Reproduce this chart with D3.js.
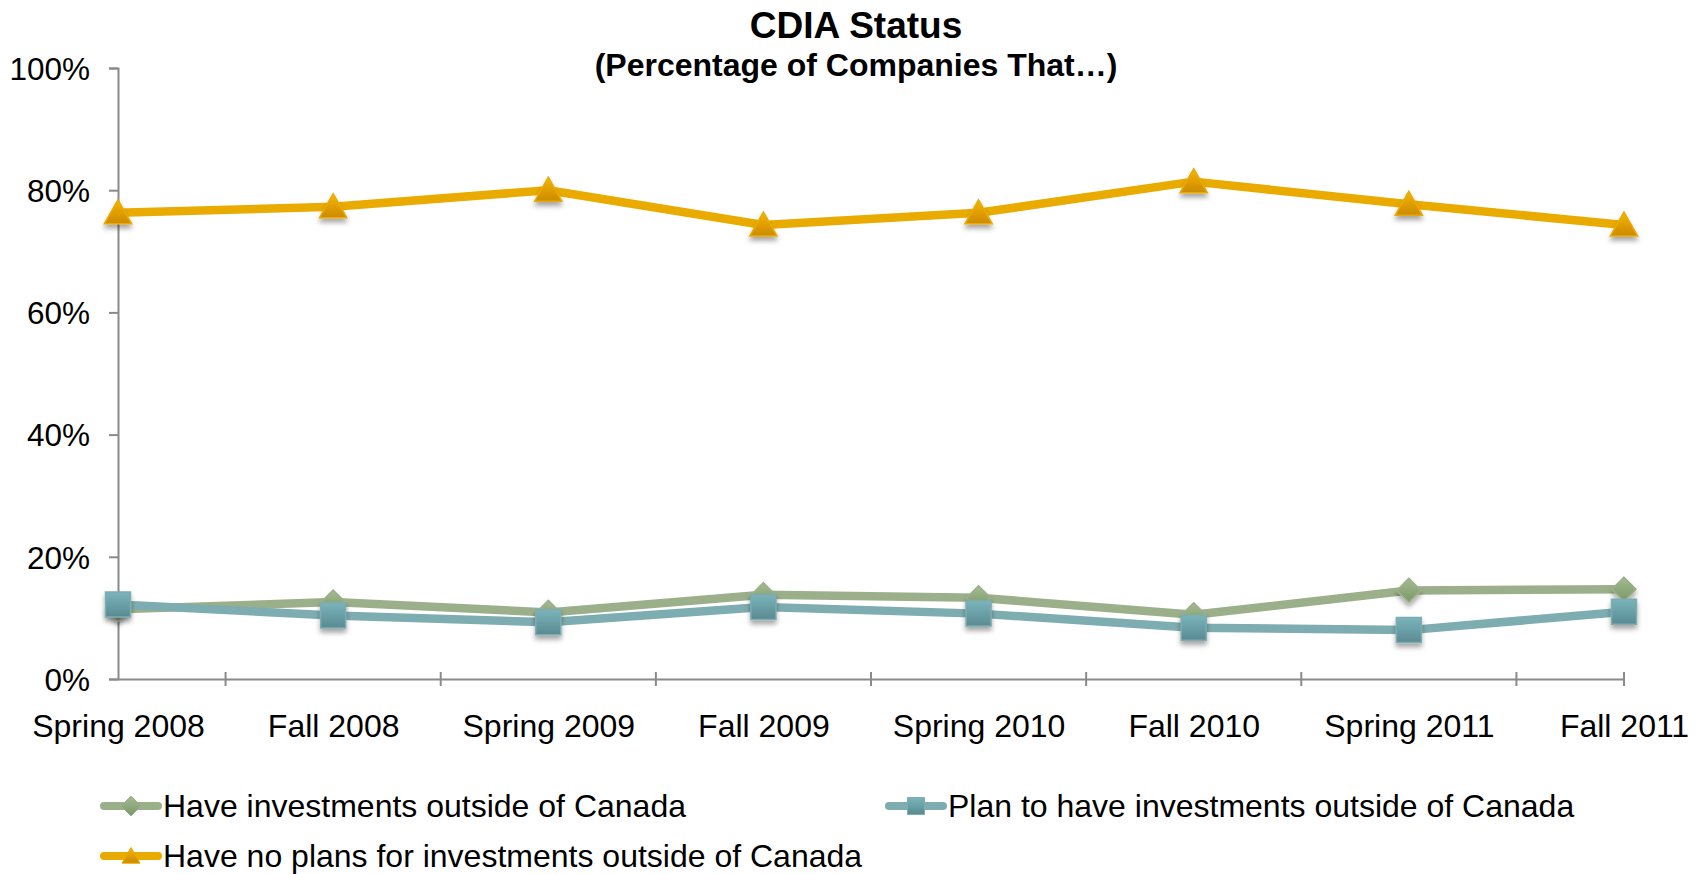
<!DOCTYPE html>
<html>
<head>
<meta charset="utf-8">
<script src="https://cdn.jsdelivr.net/npm/d3@7"></script>
<style>
  body { margin: 0; background: #fff; }
  text { font-family: "Liberation Sans", Arial, sans-serif; fill: #000; }
</style>
</head>
<body>
<div id="chart"></div>
<script>
// survey waves
var waves = ["Spring 2008", "Fall 2008", "Spring 2009", "Fall 2009",
             "Spring 2010", "Fall 2010", "Spring 2011", "Fall 2011"];

// share of companies
var haveInvest  = [0.114, 0.126, 0.109, 0.138, 0.133, 0.105, 0.145, 0.147];
var planInvest  = [0.122, 0.104, 0.093, 0.118, 0.107, 0.084, 0.080, 0.110];
var noPlans     = [0.763, 0.773, 0.800, 0.743, 0.763, 0.814, 0.777, 0.743];

var seriesNames = ["Have investments outside of Canada",
                   "Plan to have investments outside of Canada",
                   "Have no plans for investments outside of Canada"];

var yTicks = [0, 0.2, 0.4, 0.6, 0.8, 1.0];

var width = 1702, height = 874;

var svg = d3.select("#chart").append("svg")
    .attr("width", width)
    .attr("height", height);

var x = d3.scalePoint().domain(waves).range([118, 1624]);
var y = d3.scaleLinear().domain([0, 1]).range([679, 68]);

var series = [
    { name: seriesNames[0], values: haveInvest, line: "#9bb08a", top: "#a3bb91", bot: "#7a9869", shape: "diamond" },
    { name: seriesNames[1], values: planInvest, line: "#7dacb1", top: "#7ab4bb", bot: "#5a8a91", shape: "square" },
    { name: seriesNames[2], values: noPlans,    line: "#eaab00", top: "#f5b600", bot: "#cc8a00", shape: "triangle" }
];

var defs = svg.append("defs");
series.forEach(function(s, i) {
    var g = defs.append("linearGradient")
        .attr("id", "grad" + i)
        .attr("x1", 0).attr("y1", 0).attr("x2", 0).attr("y2", 1);
    g.append("stop").attr("offset", "0%").attr("stop-color", s.top);
    g.append("stop").attr("offset", "100%").attr("stop-color", s.bot);
});
var shadow = defs.append("filter").attr("id", "shadow")
    .attr("x", "-50%").attr("y", "-50%").attr("width", "200%").attr("height", "200%");
shadow.append("feDropShadow")
    .attr("dx", 0).attr("dy", 4).attr("stdDeviation", 2.5)
    .attr("flood-color", "#000").attr("flood-opacity", 0.35);

// title
svg.append("text")
    .attr("x", 856).attr("y", 38)
    .attr("text-anchor", "middle")
    .style("font-size", "37px").style("font-weight", "bold")
    .text("CDIA Status");
svg.append("text")
    .attr("x", 856).attr("y", 76)
    .attr("text-anchor", "middle")
    .style("font-size", "32px").style("font-weight", "bold")
    .text("(Percentage of Companies That\u2026)");

// y axis
var yAxis = svg.append("g")
    .attr("transform", "translate(118,0)")
    .call(d3.axisLeft(y).tickValues(yTicks).tickFormat(d3.format(".0%"))
        .tickSize(9).tickPadding(19));
yAxis.selectAll("text").style("font-size", "31.5px").attr("dy", "0.36em");

// x axis: labels under each wave, tick marks between waves
var xAxis = svg.append("g")
    .attr("transform", "translate(0,679)")
    .call(d3.axisBottom(x).tickSize(0).tickPadding(35));
xAxis.selectAll("text").style("font-size", "32px");

var step = x.step();
var midTicks = waves.slice(1).map(function(w) { return x(w) - step / 2; });
midTicks.push(x(waves[waves.length - 1]));
svg.append("g").selectAll("line")
    .data(midTicks)
    .enter().append("line")
    .attr("x1", function(d) { return d; })
    .attr("x2", function(d) { return d; })
    .attr("y1", 672).attr("y2", 686)
    .attr("stroke", "#8a8a8a").attr("stroke-width", 2);

svg.selectAll(".domain").attr("stroke", "#8a8a8a").attr("stroke-width", 2);
yAxis.selectAll(".tick line").attr("stroke", "#8a8a8a").attr("stroke-width", 2);

function markerPath(shape, size) {
    var h = size / 2;
    if (shape === "diamond") return "M0," + (-h) + "L" + h + ",0L0," + h + "L" + (-h) + ",0Z";
    if (shape === "square") return "M" + (-h) + "," + (-h) + "h" + size + "v" + size + "h" + (-size) + "Z";
    return "M0," + (-h * 1.0) + "L" + (h * 1.05) + "," + (h * 0.85) + "L" + (-h * 1.05) + "," + (h * 0.85) + "Z";
}
var markerSize = { diamond: 24, square: 25, triangle: 26 };

var line = d3.line()
    .x(function(d, i) { return x(waves[i]); })
    .y(function(d) { return y(d); });

series.forEach(function(s, i) {
    svg.append("path")
        .datum(s.values)
        .attr("fill", "none")
        .attr("stroke", s.line)
        .attr("stroke-width", 8.5)
        .attr("stroke-linejoin", "round")
        .attr("d", line);
});

series.forEach(function(s, i) {
    svg.append("g").selectAll("path")
        .data(s.values)
        .enter().append("path")
        .attr("transform", function(d, j) { return "translate(" + x(waves[j]) + "," + y(d) + ")"; })
        .attr("d", markerPath(s.shape, markerSize[s.shape]))
        .attr("fill", "url(#grad" + i + ")")
        .attr("stroke", s.line)
        .attr("stroke-width", 1.5)
        .attr("filter", "url(#shadow)");
});

// legend
var legendPos = [
    { x: 101, y: 806 },
    { x: 886, y: 806 },
    { x: 101, y: 856 }
];
series.forEach(function(s, i) {
    var g = svg.append("g").attr("transform", "translate(" + legendPos[i].x + "," + legendPos[i].y + ")");
    g.append("line")
        .attr("x1", 3).attr("x2", 57)
        .attr("stroke", s.line).attr("stroke-width", 8)
        .attr("stroke-linecap", "round");
    g.append("path")
        .attr("transform", "translate(30,0)")
        .attr("d", markerPath(s.shape, s.shape === "diamond" ? 20 : 17))
        .attr("fill", "url(#grad" + i + ")")
        .attr("stroke", s.line).attr("stroke-width", 1);
    g.append("text")
        .attr("x", 62).attr("y", 11)
        .style("font-size", "32px")
        .text(s.name);
});
</script>
</body>
</html>
